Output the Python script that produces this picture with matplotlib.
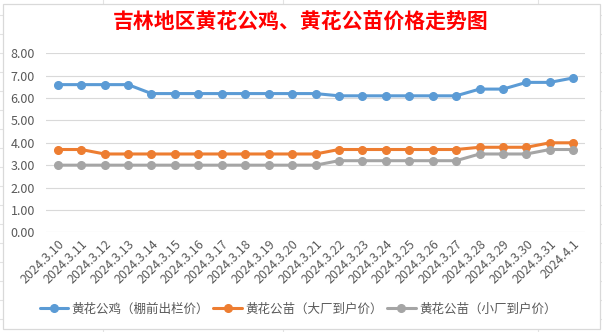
import matplotlib
matplotlib.use("Agg")
import matplotlib.pyplot as plt
from matplotlib.lines import Line2D
from matplotlib.patches import Rectangle
from matplotlib.ticker import FormatStrFormatter

plt.rcParams['font.family'] = ['Noto Sans CJK SC', 'DejaVu Sans']

dates = ["2024.3.10", "2024.3.11", "2024.3.12", "2024.3.13", "2024.3.14", "2024.3.15",
         "2024.3.16", "2024.3.17", "2024.3.18", "2024.3.19", "2024.3.20", "2024.3.21",
         "2024.3.22", "2024.3.23", "2024.3.24", "2024.3.25", "2024.3.26", "2024.3.27",
         "2024.3.28", "2024.3.29", "2024.3.30", "2024.3.31", "2024.4.1"]

rooster = [6.6, 6.6, 6.6, 6.6, 6.2, 6.2, 6.2, 6.2, 6.2, 6.2, 6.2, 6.2,
           6.1, 6.1, 6.1, 6.1, 6.1, 6.1, 6.4, 6.4, 6.7, 6.7, 6.9]
chick_big = [3.7, 3.7, 3.5, 3.5, 3.5, 3.5, 3.5, 3.5, 3.5, 3.5, 3.5, 3.5,
             3.7, 3.7, 3.7, 3.7, 3.7, 3.7, 3.8, 3.8, 3.8, 4.0, 4.0]
chick_small = [3.0, 3.0, 3.0, 3.0, 3.0, 3.0, 3.0, 3.0, 3.0, 3.0, 3.0, 3.0,
               3.2, 3.2, 3.2, 3.2, 3.2, 3.2, 3.5, 3.5, 3.5, 3.7, 3.7]

series_names = ["黄花公鸡（棚前出栏价）", "黄花公苗（大厂到户价）", "黄花公苗（小厂到户价）"]
series_colors = ["#5B9BD5", "#ED7D31", "#A5A5A5"]
title = "吉林地区黄花公鸡、黄花公苗价格走势图"

W, H = 602, 332
fig = plt.figure(figsize=(W / 100, H / 100), dpi=100)
fig.patch.set_facecolor("white")

# faint worksheet cell lines around the chart frame
for xv in [103, 283, 538]:
    fig.add_artist(Line2D([xv / W, xv / W], [0, 1], color="#E3E3E3", lw=0.8, zorder=0))
for yv in [15, 34, 53, 72, 91, 110, 129, 148, 167, 186, 205, 224, 243, 262, 281, 300, 319]:
    fig.add_artist(Line2D([0, 1], [1 - yv / H, 1 - yv / H], color="#E3E3E3", lw=0.8, zorder=0))

# chart frame
fig.add_artist(Rectangle((2.5 / W, 3.5 / H), 597 / W, 325 / H, transform=fig.transFigure,
                         facecolor="white", edgecolor="#D9D9D9", lw=0.9, zorder=0.5))

ax = fig.add_axes([46 / W, (H - 232.3) / H, (585 - 46) / W, (232.3 - 53.3) / H])
ax.set_facecolor("white")
ax.set_zorder(2)

x = list(range(len(dates)))
for vals, name, col in zip([rooster, chick_big, chick_small], series_names, series_colors):
    ax.plot(x, vals, color=col, lw=2.2, marker="o", markersize=5.5,
            markerfacecolor=col, markeredgecolor=col, label=name,
            solid_capstyle="round", zorder=3)

ax.set_ylim(0, 8)
ax.set_xlim(-0.5, len(dates) - 0.5)
ax.set_yticks(range(0, 9))
ax.yaxis.set_major_formatter(FormatStrFormatter("%.2f"))
ax.grid(axis="y", color="#D9D9D9", lw=0.8)
ax.set_axisbelow(True)
for s in ax.spines.values():
    s.set_visible(False)
ax.tick_params(axis="both", length=0, colors="#595959", labelsize=9)
ax.tick_params(axis="y", pad=8)
ax.set_xticks(x)
ax.set_xticklabels(dates, rotation=45, ha="right", rotation_mode="anchor")
ax.tick_params(axis="x", pad=4)

fig.text(0.5, 1 - 22 / H, title, ha="center", va="center", color="#FF0000",
         fontsize=15, fontweight="bold")

leg = fig.legend(loc="center", bbox_to_anchor=(298 / W, 1 - 309 / H), ncol=3, frameon=False,
                 fontsize=9, handlelength=2.3, columnspacing=0.35, handletextpad=0.25,
                 labelcolor="#595959")

fig.savefig("out.png", dpi=100, facecolor="white")
